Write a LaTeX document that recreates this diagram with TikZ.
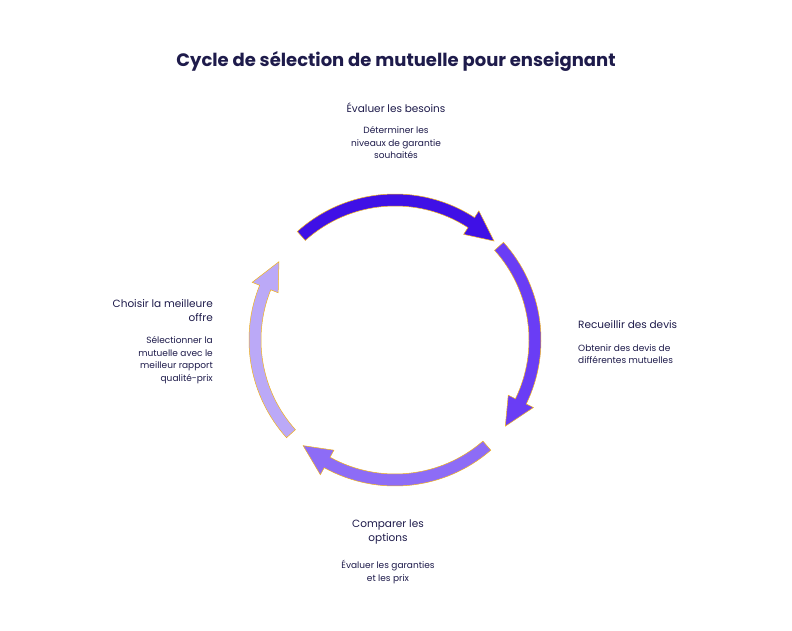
\documentclass[tikz,border=0pt]{standalone}
\usepackage{fontspec}
\setmainfont{Poppins}
\definecolor{ink}{HTML}{1E1B4B}
\definecolor{stepA}{HTML}{3F10E6}
\definecolor{stepB}{HTML}{6A3DF5}
\definecolor{stepC}{HTML}{8D6CF6}
\definecolor{stepD}{HTML}{BBA9F7}
\definecolor{rim}{HTML}{F2B31B}
\newcommand{\cyclearrow}[3]{%
  \pgfmathsetmacro{\headang}{#2+12}
  \fill[#3, draw=rim, line width=0.5pt]
    (#1:134) arc[start angle=#1, end angle=\headang, radius=134]
    -- (\headang:126) -- (#2:140) -- (\headang:154) -- (\headang:146)
    arc[start angle=\headang, end angle=#1, radius=146] -- cycle;
}
\tikzset{
  head/.style={text=ink, font=\fontsize{10.5}{14}\selectfont, inner sep=0pt},
  desc/.style={text=ink, font=\fontsize{9}{12.8}\selectfont, inner sep=0pt}
}
\begin{document}
\begin{tikzpicture}[x=1pt, y=1pt]
        \useasboundingbox[fill=white] (0,0) rectangle (792,630);
        \node [text=ink, font=\fontsize{18}{20}\selectfont\bfseries] at (396, 569) (title) {Cycle de sélection de mutuelle pour enseignant};

        \begin{scope}[shift={(395, 290)}]
        \cyclearrow{132}{45}{stepA}
        \cyclearrow{42}{-38}{stepB}
        \cyclearrow{-49}{-131}{stepC}
        \cyclearrow{-138}{-214}{stepD}
        \end{scope}

        % top step
        \node [head] at (396, 522) (evalh) {Évaluer les besoins};
        \node [desc, align=center, anchor=north] at (396, 504) (evald) {Déterminer les\\niveaux de garantie\\souhaités};
        % right step
        \node [head, anchor=west] at (578, 305) (devish) {Recueillir des devis};
        \node [desc, align=left, anchor=north west] at (578, 286) (devisd) {Obtenir des devis de\\différentes mutuelles};
        % bottom step
        \node [head, align=center, anchor=north] at (388, 110) (comph) {Comparer les\\options};
        \node [desc, align=center, anchor=north] at (388, 70) (compd) {Évaluer les garanties\\et les prix};
        % left step
        \node [head, align=right, anchor=north east] at (213, 331) (choixh) {Choisir la meilleure\\offre};
        \node [desc, align=right, anchor=north east] at (213, 294) (choixd) {Sélectionner la\\mutuelle avec le\\meilleur rapport\\qualité-prix};
\end{tikzpicture}
\end{document}
